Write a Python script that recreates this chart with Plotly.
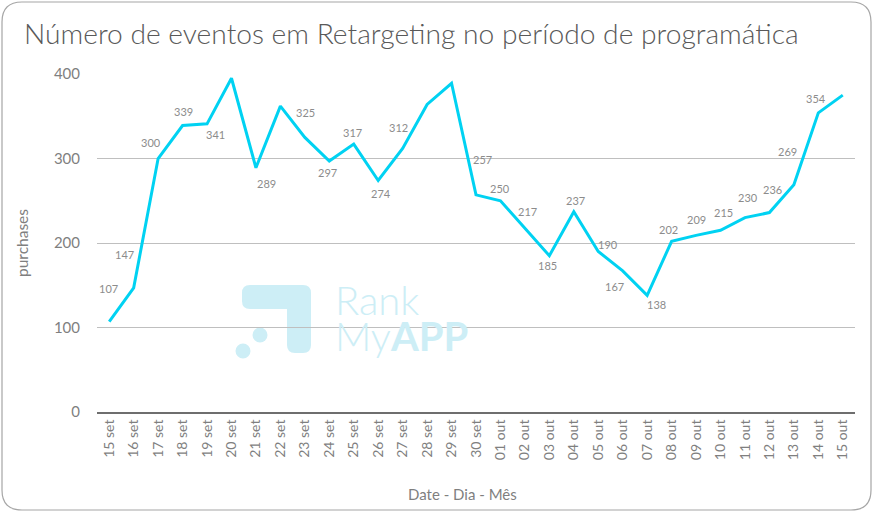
import plotly.graph_objects as go

categories = ["15 set", "16 set", "17 set", "18 set", "19 set", "20 set", "21 set", "22 set",
              "23 set", "24 set", "25 set", "26 set", "27 set", "28 set", "29 set", "30 set",
              "01 out", "02 out", "03 out", "04 out", "05 out", "06 out", "07 out", "08 out",
              "09 out", "10 out", "11 out", "12 out", "13 out", "14 out", "15 out"]
purchases = [107, 147, 300, 339, 341, 395, 289, 362, 325, 297, 317, 274, 312, 364, 389, 257,
             250, 217, 185, 237, 190, 167, 138, 202, 209, 215, 230, 236, 269, 354, 375]
# which points show a data label (overlapping labels were hidden in the original)
show_label = [1, 1, 1, 1, 1, 0, 1, 0, 1, 1, 1, 1, 1, 0, 0, 1,
              1, 1, 1, 1, 1, 1, 1, 1, 1, 1, 1, 1, 1, 1, 0]
y_ticks = [0, 100, 200, 300, 400]

# label pixel offsets (style only)
label_offsets = [(3, 33), (-5, 33), (-3, 16), (5, 14), (12, -11), (0, 0), (14, -16), (0, 0),
                 (4, 25), (2, -11), (2, 12), (6, -13), (-1, 21), (0, 0), (0, 0), (10, 35),
                 (3, 12), (6, 17), (2, -10), (5, 11), (13, 7), (-5, -16), (13, -9), (0, 12),
                 (4, 16), (6, 18), (6, 20), (6, 23), (-3, 33), (1, 14), (0, 0)]
label_offsets = [(dx - (4 - 0.03 * i), dy) for i, (dx, dy) in enumerate(label_offsets)]

W, H = 875, 513
L, R, T, B = 97, 20, 74, 101
PW, PH = W - L - R, H - T - B

def px(x):
    return (x - L) / PW

def py(y):
    return (H - B - y) / PH

def P(x, y):
    return f"{px(x):.5f},{py(y):.5f}"

FONT = "Lato, 'Open Sans', sans-serif"
GRAY = "#7F7F7F"
LOGO = "#CDEEF6"

fig = go.Figure()
fig.add_trace(go.Scatter(
    x=categories, y=purchases, mode="lines",
    line=dict(color="#00D2F2", width=3), hoverinfo="x+y", showlegend=False,
))

annotations = []
for c, v, s, (dx, dy) in zip(categories, purchases, show_label, label_offsets):
    if s:
        annotations.append(dict(x=c, y=v, xref="x", yref="y", text=str(v), showarrow=False,
                                xshift=dx, yshift=dy,
                                font=dict(family=FONT, size=11, color="#8C8C8C")))

# watermark text
annotations.append(dict(x=px(333), y=py(300), xref="paper", yref="paper", text="Rank",
                        showarrow=False, xanchor="left", yanchor="middle",
                        font=dict(family=FONT, size=40, color=LOGO, weight=300)))
annotations.append(dict(x=px(333), y=py(336), xref="paper", yref="paper",
                        text="My<b>APP</b>",
                        showarrow=False, xanchor="left", yanchor="middle",
                        font=dict(family=FONT, size=40, color=LOGO, weight=300)))

# title
annotations.append(dict(x=px(22), y=py(33), xref="paper", yref="paper",
                        text="Número de eventos em Retargeting no período de programática",
                        showarrow=False, xanchor="left", yanchor="middle",
                        font=dict(family=FONT, size=28.2, color="#595959", weight=300)))

# x axis title
annotations.append(dict(x=px(462), y=py(494), xref="paper", yref="paper",
                        text="Date - Dia - Mês", showarrow=False,
                        xanchor="center", yanchor="middle",
                        font=dict(family=FONT, size=15, color=GRAY)))

def rounded_rect(x0, y0, x1, y1, r):
    return (f"M {P(x0 + r, y0)} L {P(x1 - r, y0)} Q {P(x1, y0)} {P(x1, y0 + r)} "
            f"L {P(x1, y1 - r)} Q {P(x1, y1)} {P(x1 - r, y1)} "
            f"L {P(x0 + r, y1)} Q {P(x0, y1)} {P(x0, y1 - r)} "
            f"L {P(x0, y0 + r)} Q {P(x0, y0)} {P(x0 + r, y0)} Z")

logo_path = (f"M {P(250, 285)} L {P(303, 285)} Q {P(311, 285)} {P(311, 293)} "
             f"L {P(311, 345)} Q {P(311, 353)} {P(303, 353)} L {P(295, 353)} "
             f"Q {P(287, 353)} {P(287, 345)} L {P(287, 309)} L {P(250, 309)} "
             f"Q {P(242, 309)} {P(242, 301)} L {P(242, 293)} Q {P(242, 285)} {P(250, 285)} Z")

shapes = [
    dict(type="path", path=rounded_rect(2, 2, 871, 510, 20), xref="paper", yref="paper",
         line=dict(color="#A6A6A6", width=1.2), layer="below"),
    dict(type="path", path=logo_path, xref="paper", yref="paper",
         fillcolor=LOGO, line=dict(width=0), layer="below"),
    dict(type="circle", xref="paper", yref="paper", x0=px(235.5), x1=px(250.5),
         y0=py(358.5), y1=py(343.5), fillcolor=LOGO, line=dict(width=0), layer="below"),
    dict(type="circle", xref="paper", yref="paper", x0=px(252.5), x1=px(267.5),
         y0=py(342.5), y1=py(327.5), fillcolor=LOGO, line=dict(width=0), layer="below"),
]

fig.update_layout(
    width=W, height=H,
    margin=dict(l=L, r=R, t=T, b=B, pad=0),
    paper_bgcolor="white", plot_bgcolor="rgba(0,0,0,0)",
    font=dict(family=FONT, color=GRAY),
    annotations=annotations, shapes=shapes,
    xaxis=dict(
        type="category", categoryorder="array", categoryarray=categories,
        range=[-0.5, len(categories) - 0.5], automargin=False,
        tickangle=-90, tickfont=dict(size=14, color=GRAY),
        showgrid=False, showline=True, linecolor="#6E6E6E", linewidth=2,
        ticks="", zeroline=False,
    ),
    yaxis=dict(
        range=[0, 400], tickvals=y_ticks, tickfont=dict(size=15, color=GRAY),
        showgrid=True, gridcolor="#BFBFBF", gridwidth=1.3, zeroline=False,
        showline=False, ticks="outside", ticklen=13, tickcolor="rgba(0,0,0,0)",
        title=dict(text="purchases", font=dict(size=15.5, color=GRAY), standoff=21),
    ),
)

fig.write_html("out.html", config={"displayModeBar": False},
               post_script="document.body.style.margin='0';document.body.style.overflow='hidden';")
